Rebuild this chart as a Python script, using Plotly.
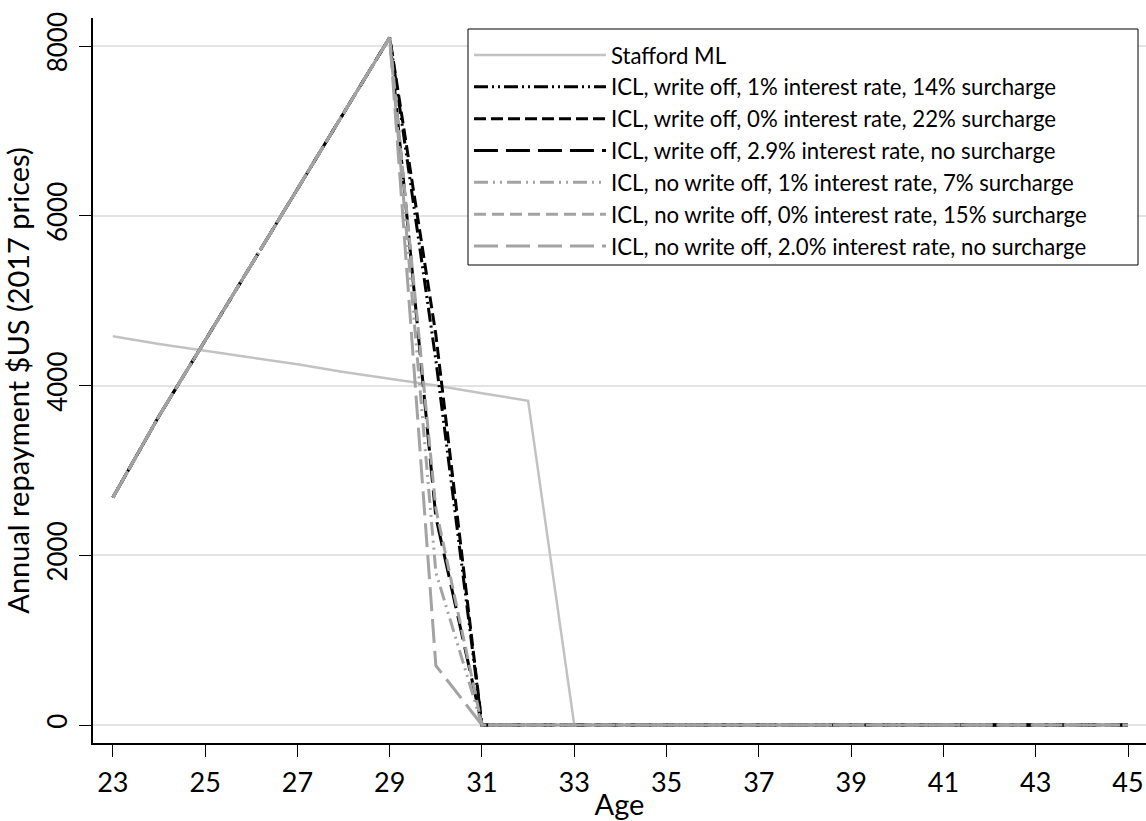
import plotly.graph_objects as go

ages = list(range(23, 46))

stafford = [4580, 4490, 4410, 4330, 4250, 4160, 4080, 4000, 3910, 3820] + [0] * 13
icl_wo_1_14 = [2680, 3640, 4530, 5420, 6320, 7200, 8100, 4300] + [0] * 15
icl_wo_0_22 = [2680, 3640, 4530, 5420, 6320, 7200, 8100, 4600] + [0] * 15
icl_wo_29_ns = [2680, 3640, 4530, 5420, 6320, 7200, 8100, 2450] + [0] * 15
icl_nwo_1_7 = [2680, 3640, 4530, 5420, 6320, 7200, 8100, 1800] + [0] * 15
icl_nwo_0_15 = [2680, 3640, 4530, 5420, 6320, 7200, 8100, 2550] + [0] * 15
icl_nwo_2_ns = [2680, 3640, 4530, 5420, 6320, 7200, 8100, 700] + [0] * 15

names = [
    "Stafford ML",
    "ICL, write off, 1% interest rate, 14% surcharge",
    "ICL, write off, 0% interest rate, 22% surcharge",
    "ICL, write off, 2.9% interest rate, no surcharge",
    "ICL, no write off, 1% interest rate, 7% surcharge",
    "ICL, no write off, 0% interest rate, 15% surcharge",
    "ICL, no write off, 2.0% interest rate, no surcharge",
]
series = [stafford, icl_wo_1_14, icl_wo_0_22, icl_wo_29_ns, icl_nwo_1_7, icl_nwo_0_15, icl_nwo_2_ns]
colors = ["#c2c2c2", "#000000", "#000000", "#000000", "#a3a3a3", "#a3a3a3", "#a3a3a3"]
dashes = ["solid", "14px,4px,2px,4px,2px,4px", "12px,5px", "24px,8px",
          "14px,5px,2px,5px,2px,5px", "12px,6px", "24px,8px"]
widths = [2.5, 3, 3, 3, 3, 3, 3]

fig = go.Figure()
for n, s, c, d, w in zip(names, series, colors, dashes, widths):
    fig.add_trace(go.Scatter(x=ages, y=s, mode="lines", name=n,
                             line=dict(color=c, dash=d, width=w)))

# plot area in pixels: left 93, top 18, width 1053, height 725
L, T, W, H = 93, 18, 1053, 725
def px(xp):
    return (xp - L) / W
def py(yp):
    return (T + H - yp) / H

# legend frame (white box with black border)
fig.add_shape(type="rect", xref="paper", yref="paper",
              x0=px(468), x1=px(1138), y0=py(265), y1=py(29),
              line=dict(color="black", width=1), fillcolor="white", layer="above")

fig.update_layout(
    width=1146, height=821,
    margin=dict(l=L, r=0, t=T, b=821 - T - H),
    paper_bgcolor="white", plot_bgcolor="white",
    font=dict(family="Lato", size=22, color="black"),
    showlegend=True,
    legend=dict(x=px(469), y=py(34), xanchor="left", yanchor="top",
                borderwidth=0, bgcolor="rgba(0,0,0,0)",
                font=dict(size=22.2), itemwidth=132, tracegroupgap=0),
    xaxis=dict(range=[22.57, 45.39], tickvals=list(range(23, 46, 2)),
               showgrid=False, zeroline=False, showline=True, linecolor="black",
               linewidth=1.5, ticks="outside", ticklen=12, tickcolor="black",
               tickfont=dict(size=27), automargin=False, ticklabelstandoff=3,
               title=dict(text="Age", standoff=0, font=dict(size=29))),
    yaxis=dict(range=[-212, 8330], tickvals=[0, 2000, 4000, 6000, 8000],
               showgrid=True, gridcolor="#e3e3e3", gridwidth=2, zeroline=False,
               showline=True, linecolor="black", linewidth=1.5,
               ticks="outside", ticklen=12, tickcolor="black", tickangle=-90,
               tickfont=dict(size=26), automargin=False, ticklabelstandoff=2,
               title=dict(text="Annual repayment $US (2017 prices)", standoff=10,
                          font=dict(size=29))),
)

fig.write_html("out.html", config={"displayModeBar": False},
               post_script="document.body.style.margin='0';")
